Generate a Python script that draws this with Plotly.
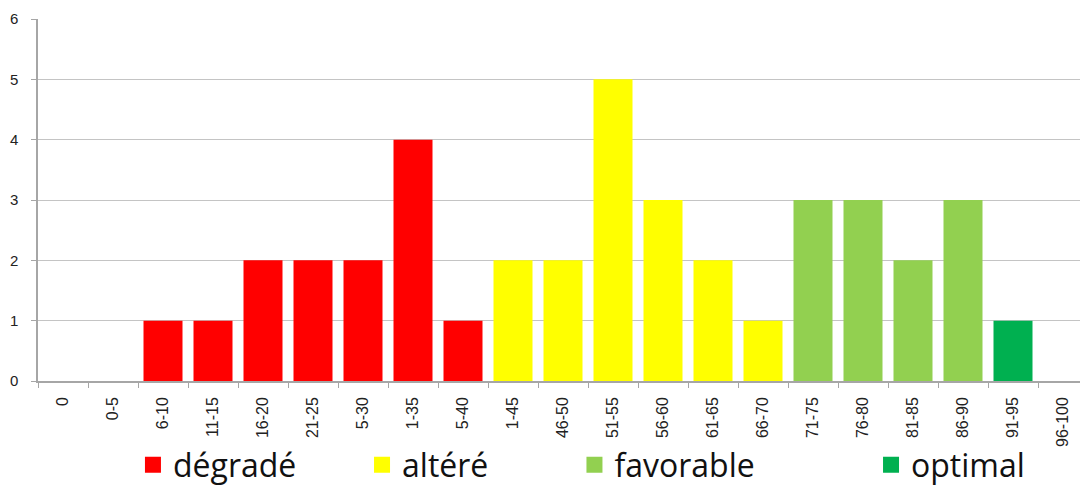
import plotly.graph_objects as go

categories = ["0", "0-5", "6-10", "11-15", "16-20", "21-25", "5-30", "1-35", "5-40",
              "1-45", "46-50", "51-55", "56-60", "61-65", "66-70", "71-75", "76-80",
              "81-85", "86-90", "91-95", "96-100"]
values = [0, 0, 1, 1, 2, 2, 2, 4, 1, 2, 2, 5, 3, 2, 1, 3, 3, 2, 3, 1, 0]
classes = ["", "", "dégradé", "dégradé", "dégradé", "dégradé", "dégradé", "dégradé", "dégradé",
           "altéré", "altéré", "altéré", "altéré", "altéré", "altéré",
           "favorable", "favorable", "favorable", "favorable", "optimal", ""]
class_names = ["dégradé", "altéré", "favorable", "optimal"]
class_colors = {"dégradé": "#FF0000", "altéré": "#FFFF00",
                "favorable": "#92D050", "optimal": "#00B050", "": "#FFFFFF"}

# the page body adds an 8px margin, so the figure is 8px smaller on each axis
W, H = 1080, 481

fig = go.Figure()
fig.add_trace(go.Bar(
    x=categories, y=values,
    marker=dict(color=[class_colors[c] for c in classes], line=dict(width=0)),
    showlegend=False,
))

legend_x = [0.1157, 0.3278, 0.5245, 0.7991]
for i, name in enumerate(class_names):
    key = "legend" if i == 0 else f"legend{i+1}"
    fig.add_trace(go.Scatter(
        x=[None], y=[None], mode="markers", name=name,
        marker=dict(symbol="square", size=22, color=class_colors[name]),
        legend=key,
    ))
    fig.update_layout(**{key: dict(
        x=legend_x[i], y=0.05, xref="container", yref="container",
        xanchor="left", yanchor="middle", orientation="h",
        font=dict(family="Open Sans", size=32, color="#111111"),
        bgcolor="rgba(0,0,0,0)", itemwidth=30,
    )})

fig.update_layout(
    width=W, height=H,
    margin=dict(l=30, r=0, t=11, b=108, autoexpand=False),
    paper_bgcolor="white", plot_bgcolor="white",
    bargap=0.22,
    font=dict(family="Liberation Sans", color="#222222"),
    xaxis=dict(
        type="category", showline=True, linecolor="#A6A6A6", linewidth=1.5,
        ticks="outside", tickson="boundaries", ticklen=5, tickcolor="#A6A6A6",
        tickangle=-90, tickfont=dict(size=16, family="Liberation Sans", color="#222222"),
        showgrid=False, range=[-0.5, 20.5], automargin=False, ticklabelstandoff=8,
    ),
    yaxis=dict(
        range=[0, 6], dtick=1, showline=True, linecolor="#A6A6A6", linewidth=1.5,
        ticks="outside", ticklen=5, tickcolor="#A6A6A6",
        showgrid=True, gridcolor="#C4C4C4", gridwidth=1,
        tickfont=dict(size=15, family="Liberation Sans", color="#222222"),
        zeroline=False, automargin=False, ticklabelstandoff=10,
    ),
)

fig.write_html("out.html")
